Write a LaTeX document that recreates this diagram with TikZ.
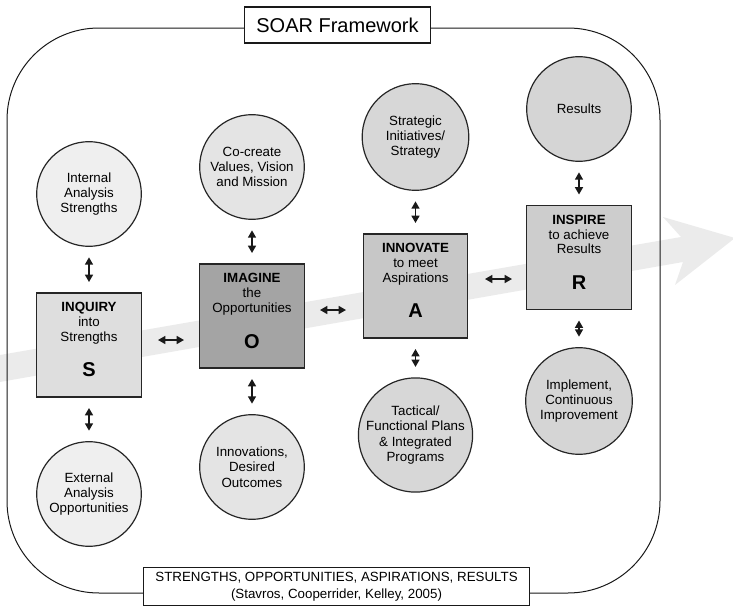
\documentclass[tikz,border=0pt]{standalone}
\usepackage{fontspec}
\setmainfont{Liberation Sans}
\usetikzlibrary{arrows.meta,calc}
\definecolor{bandgray}{HTML}{EBEBEB}
\definecolor{cA}{HTML}{EFEFEF}
\definecolor{cB}{HTML}{E4E4E4}
\definecolor{cC}{HTML}{D7D7D7}
\definecolor{cD}{HTML}{D5D5D5}
\definecolor{bS}{HTML}{DEDEDE}
\definecolor{bO}{HTML}{A4A4A4}
\definecolor{bA}{HTML}{C7C7C7}
\definecolor{bR}{HTML}{CDCDCD}
\begin{document}
\begin{tikzpicture}[x=0.75pt,y=-0.75pt,
  circ/.style={circle,draw=black!85,line width=0.9pt,minimum size=78.5pt,inner sep=0pt,align=center,font=\fontsize{10}{11.5}\selectfont},
  sq/.style={rectangle,draw=black!85,line width=0.9pt,minimum width=78.5pt,minimum height=78pt,inner sep=0pt},
  hdr/.style={anchor=north,align=center,inner sep=0pt,font=\fontsize{10}{11}\selectfont},
  letter/.style={inner sep=0pt,font=\fontsize{15}{15}\selectfont\bfseries},
  dbl/.style={{Triangle[length=5.5pt,width=6pt]}-{Triangle[length=5.5pt,width=6pt]},line width=1.1pt,draw=black!90},
  vdbl/.style={dbl,shorten <=7.8pt,shorten >=7.8pt},
]
\useasboundingbox (0,0) rectangle (733,607);
% big background arrow
\begin{scope}
\clip (0,0) rectangle (733,607);
\fill[bandgray] (-3,355.5) -- (681,237) -- (663,217) -- (735,238) -- (675,285) -- (683,262) -- (-3,382.5) -- cycle;
\end{scope}
% outer frame
\draw[line width=0.75pt,draw=black!90,rounded corners=69pt] (7,28) rectangle (660,593);
\node[draw=black!90,fill=white,line width=0.8pt,minimum width=140pt,minimum height=27pt,inner sep=0pt,font=\fontsize{15}{15}\selectfont] (title) at (337.5,25) {SOAR Framework};
\node[draw=black!90,fill=white,line width=0.8pt,minimum width=290pt,minimum height=29pt,inner sep=0pt,align=center,font=\fontsize{10}{13}\selectfont] (foot) at (336.5,586.5) {STRENGTHS, OPPORTUNITIES, ASPIRATIONS, RESULTS\\(Stavros, Cooperrider, Kelley, 2005)};

% S column
\node[circ,fill=cA] (int) at (89,194) {Internal\\Analysis\\Strengths};
\node[sq,fill=bS] (S) at (89,345) {};
\node[circ,fill=cA] (ext) at (89,494) {External\\Analysis\\Opportunities};
\node[hdr] (Sh) at ($(S.north)+(0,10)$) {\textbf{INQUIRY}\\into\\Strengths};
\node[letter] (Sl) at ($(S.south)+(0,-28)$) {S};

% O column
\node[circ,fill=cB] (cc) at (252,167) {Co-create\\Values, Vision\\and Mission};
\node[sq,fill=bO] (O) at (252,316) {};
\node[circ,fill=cB] (inn) at (252,467) {Innovations,\\Desired\\Outcomes};
\node[hdr] (Oh) at ($(O.north)+(0,10)$) {\textbf{IMAGINE}\\the\\Opportunities};
\node[letter] (Ol) at ($(O.south)+(0,-27)$) {O};

% A column
\node[circ,fill=cC,minimum size=80pt] (strat) at (415.5,137) {Strategic\\Initiatives/\\Strategy};
\node[sq,fill=bA] (A) at (415.5,286) {};
\node[circ,fill=cC,minimum size=80pt] (tac) at (415.5,435) {Tactical/\\Functional Plans\\\&~Integrated\\Programs};
\node[hdr] (Ah) at ($(A.north)+(0,10)$) {\textbf{INNOVATE}\\to meet\\Aspirations};
\node[letter] (Al) at ($(A.south)+(0,-28)$) {A};

% R column
\node[circ,fill=cD] (res) at (579,109) {Results};
\node[sq,fill=bR] (R) at (579,257.5) {};
\node[circ,fill=cD,minimum size=80pt] (imp) at (579,401) {Implement,\\Continuous\\Improvement};
\node[hdr] (Rh) at ($(R.north)+(0,10)$) {\textbf{INSPIRE}\\to achieve\\Results};
\node[letter] (Rl) at ($(R.south)+(0,-27)$) {R};

% vertical double arrows
\draw[vdbl] (int) -- (S);
\draw[vdbl] (S) -- (ext);
\draw[vdbl] (cc) -- (O);
\draw[vdbl] (O) -- (inn);
\draw[vdbl] (strat) -- (A);
\draw[vdbl] (A) -- (tac);
\draw[vdbl] (res) -- (R);
\draw[vdbl] (R) -- (imp);

% horizontal double arrows
\coordinate (so1) at (158,340);
\coordinate (so2) at (184,340);
\coordinate (oa1) at (320,310);
\coordinate (oa2) at (346,310);
\coordinate (ar1) at (485,279);
\coordinate (ar2) at (512,279);
\draw[dbl] (so1) -- (so2);
\draw[dbl] (oa1) -- (oa2);
\draw[dbl] (ar1) -- (ar2);
\end{tikzpicture}
\end{document}
